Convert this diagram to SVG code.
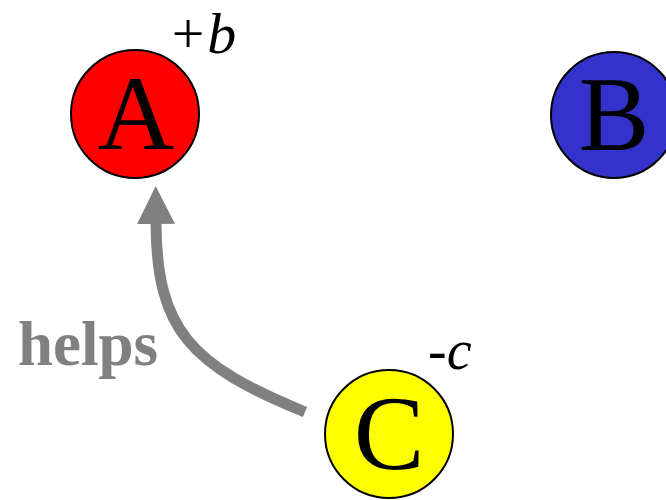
<svg xmlns="http://www.w3.org/2000/svg" width="666" height="500" viewBox="0 0 666 500">
<defs>
<style>
.node{stroke:#000;stroke-width:2}
.lbl{font-family:"Liberation Serif","Times New Roman",serif;font-size:106px;fill:#000;text-anchor:middle}
.sup{font-family:"Liberation Serif","Times New Roman",serif;font-size:56px;font-style:italic;fill:#000}
.edge{fill:none;stroke:#808080;stroke-width:11}
.elbl{font-family:"Liberation Serif","Times New Roman",serif;font-size:63px;font-weight:bold;fill:#808080}
</style>
<marker id="ah" markerUnits="userSpaceOnUse" markerWidth="40" markerHeight="40" refX="0" refY="18" orient="auto" viewBox="0 0 38 36">
<path d="M0,0 L36,18 L0,36 Z" fill="#808080"/>
</marker>
</defs>
<g id="connectors">
<path class="edge" d="M305,412 C190,365 157,330 156,224" marker-end="url(#ah)"/>
<text class="elbl" x="18" y="365">helps</text>
</g>
<g id="nodeA">
<circle class="node" cx="135" cy="114" r="64" fill="#ff0000"/>
<text class="lbl" x="136" y="149">A</text>
<text class="sup" x="168" y="53" style="font-size:58px">+b</text>
</g>
<g id="nodeB">
<circle class="node" cx="614" cy="115" r="63" fill="#3333cc"/>
<text class="lbl" x="614" y="150">B</text>
</g>
<g id="nodeC">
<circle class="node" cx="389" cy="434" r="64" fill="#ffff00"/>
<text class="lbl" x="389" y="469">C</text>
<text class="sup" x="428" y="369">-c</text>
</g>
</svg>
